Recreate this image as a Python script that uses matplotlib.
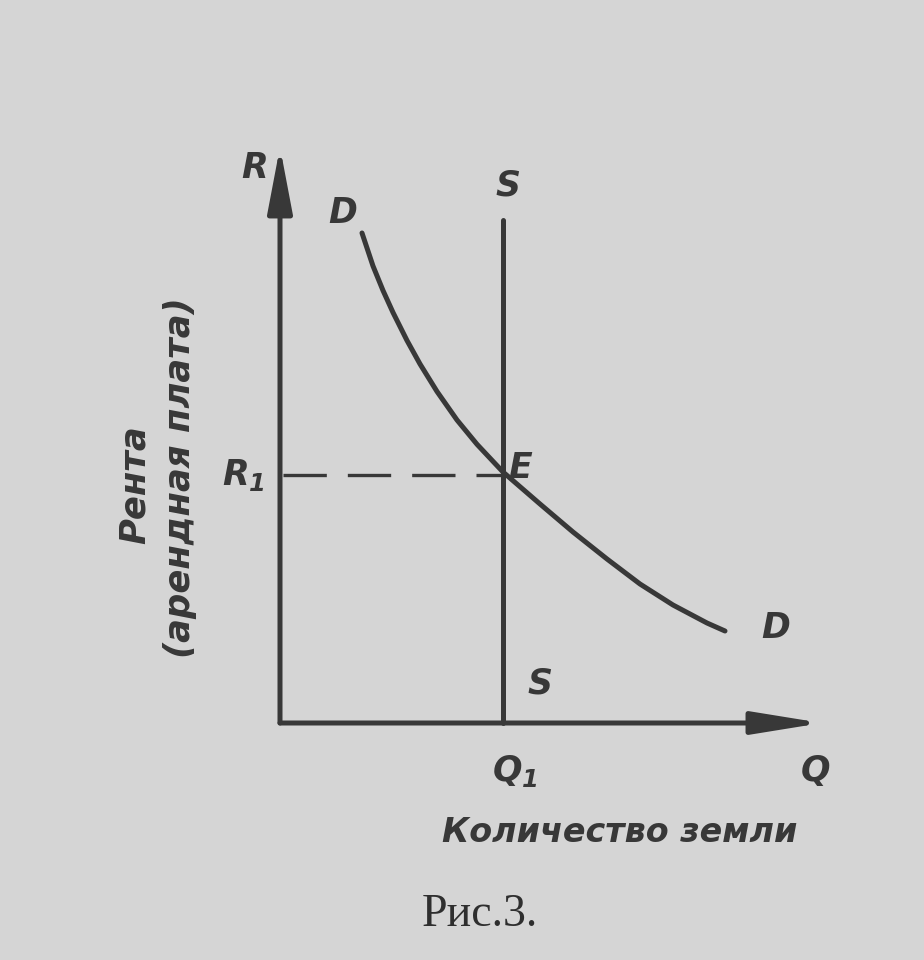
import matplotlib
matplotlib.use("Agg")
import matplotlib.pyplot as plt

# ---- data (in chart units, origin at axes corner) ----
Q1 = 2.23
R1 = 2.51
S_top = 5.03
demand_q = [0.82, 0.93, 1.03, 1.13, 1.27, 1.40, 1.57, 1.77, 1.97, 2.23,
            2.60, 2.93, 3.27, 3.60, 3.93, 4.27, 4.45]
demand_r = [4.90, 4.57, 4.325, 4.105, 3.825, 3.59, 3.315, 3.03, 2.787, 2.51,
            2.19, 1.91, 1.64, 1.39, 1.18, 1.00, 0.92]
x_axis_end = 5.42
y_axis_end = 5.76

ink = '#383838'
bg = '#d5d5d5'
lw = 3.6

plt.rcParams['mathtext.fontset'] = 'custom'
plt.rcParams['mathtext.it'] = 'DejaVu Sans:italic:bold'
plt.rcParams['mathtext.rm'] = 'DejaVu Sans:italic:bold'
fig = plt.figure(figsize=(9.24, 9.6), dpi=100, facecolor=bg)
ax = fig.add_axes([0, 0, 1, 1])
ax.set_facecolor(bg)
ax.set_xlim(-2.80, 6.44)
ax.set_ylim(-2.37, 7.23)
ax.axis('off')

# axes with arrows
ax.annotate('', xy=(0, y_axis_end), xytext=(0, 0),
            arrowprops=dict(arrowstyle='-|>,head_length=2.0,head_width=0.38',
                            lw=lw, color=ink, shrinkA=0, shrinkB=0, mutation_scale=20))
ax.annotate('', xy=(x_axis_end, 0), xytext=(0, 0),
            arrowprops=dict(arrowstyle='-|>,head_length=2.1,head_width=0.34',
                            lw=lw, color=ink, shrinkA=0, shrinkB=0, mutation_scale=20))

# supply
ax.plot([Q1, Q1], [0, S_top], color=ink, lw=lw, solid_capstyle='round')
# demand
ax.plot(demand_q, demand_r, color=ink, lw=lw, solid_capstyle='round', solid_joinstyle='round')
# R1 dashed
ax.plot([0.03, Q1], [R1 - 0.03, R1 - 0.03], color=ink, lw=2.4, dashes=(13, 6.3))

fs = 25
tkw = dict(color=ink, fontsize=fs, style='italic', weight='bold', family='DejaVu Sans',
           ha='center', va='center')
ax.text(-0.25, 5.55, 'R', **tkw)
ax.text(2.28, 5.38, 'S', **tkw)
ax.text(0.63, 5.10, 'D', **tkw)
ax.text(2.40, 2.55, 'E', **tkw)
ax.text(-0.37, 2.48, r'$R_{1}$', color=ink, fontsize=fs, ha='center', va='center')
ax.text(2.60, 0.40, 'S', **tkw)
ax.text(4.96, 0.95, 'D', **tkw)
ax.text(2.35, -0.48, r'$Q_{1}$', color=ink, fontsize=fs, ha='center', va='center')
ax.text(5.36, -0.48, 'Q', **tkw)

lkw = dict(color=ink, style='italic', weight='bold', family='DejaVu Sans',
           ha='center', va='center')
ax.text(3.40, -1.09, 'Количество земли', fontsize=24, **lkw)
ax.text(-1.45, 2.38, 'Рента', rotation=90, fontsize=25.5, **lkw)
ax.text(-1.00, 2.45, '(арендная плата)', rotation=90, fontsize=25.5, **lkw)

ax.text(2.00, -1.92, 'Рис.3.', color='#2e2e2e', fontsize=33, family='Liberation Serif',
        ha='center', va='center')

fig.savefig('out.png', dpi=100, facecolor=bg)
